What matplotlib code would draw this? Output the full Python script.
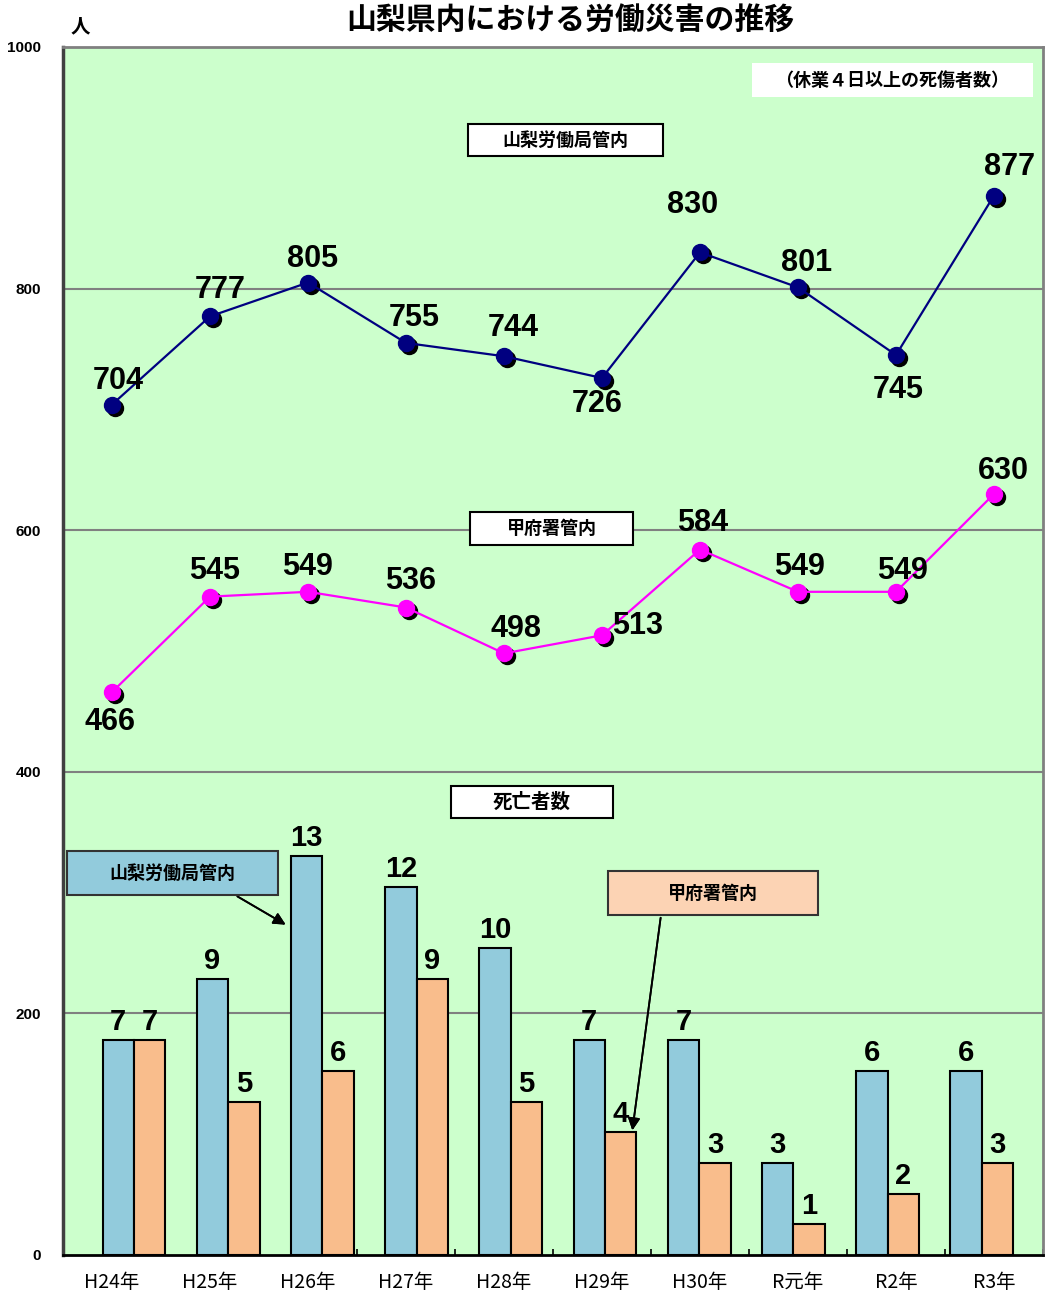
import numpy as np
import matplotlib.pyplot as plt
from matplotlib.patches import Rectangle
from matplotlib.transforms import ScaledTranslation

plt.rcParams['font.family'] = ['Noto Sans CJK JP', 'DejaVu Sans']

# data
years = ["H24年", "H25年", "H26年", "H27年", "H28年", "H29年", "H30年", "R元年", "R2年", "R3年"]
yamanashi_total = [704, 777, 805, 755, 744, 726, 830, 801, 745, 877]
kofu_total = [466, 545, 549, 536, 498, 513, 584, 549, 549, 630]
yamanashi_deaths = [7, 9, 13, 12, 10, 7, 7, 3, 6, 6]
kofu_deaths = [7, 5, 6, 9, 5, 4, 3, 1, 2, 3]

# label offsets in pixels (layout only)
blue_off = [(6, 24), (10, 26), (5, 24), (8, 25), (9, 28), (-5, -26), (-7, 47), (9, 24), (2, -35), (16, 29)]
pink_off = [(-2, -30), (5, 26), (0, 25), (5, 27), (12, 24), (36, 9), (3, 27), (2, 25), (7, 21), (9, 23)]

GREEN = "#ccffcc"
NAVY = "#000080"
MAGENTA = "#ff00ff"
BAR_BLUE = "#92cbdc"
BAR_ORANGE = "#f9bd8c"
NUM_FONT = ['Liberation Sans', 'DejaVu Sans']
W, H = 1046, 1299

fig = plt.figure(figsize=(W / 100, H / 100), dpi=100)
pos = [63 / W, 1 - 1255 / H, 980 / W, 1208 / H]
ax = fig.add_axes(pos)
ax.set_facecolor(GREEN)
x = np.arange(len(years))
ax.set_xlim(-0.5, 9.5)
ax.set_ylim(0, 1000)

for y in [200, 400, 600, 800]:
    ax.axhline(y, color="#808080", lw=1.5, zorder=1)

# bars on an overlay axes with its own scale
axb = fig.add_axes(pos)
axb.patch.set_alpha(0)
axb.set_xlim(-0.754, 9.65)
axb.set_ylim(0, 39.35)
axb.axis("off")
bw = 0.334
axb.bar(x - bw / 2, yamanashi_deaths, bw, color=BAR_BLUE, edgecolor="black", lw=1.5, zorder=2)
axb.bar(x + bw / 2, kofu_deaths, bw, color=BAR_ORANGE, edgecolor="black", lw=1.5, zorder=2)
for i in range(len(years)):
    for xx, v in [(x[i] - bw / 2, yamanashi_deaths[i]), (x[i] + bw / 2, kofu_deaths[i])]:
        axb.annotate(str(v), (xx, v), xytext=(0, 18), textcoords="offset pixels",
                     ha="center", va="center", fontsize=21, fontweight="bold", family=NUM_FONT)

# lines on a top-level overlay axes sharing the primary scale
axl = fig.add_axes(pos, sharex=ax, sharey=ax)
axl.patch.set_alpha(0)
axl.axis("off")
shadow = axl.transData + ScaledTranslation(3 / 100, -3 / 100, fig.dpi_scale_trans)
for vals, col, offs in [(yamanashi_total, NAVY, blue_off), (kofu_total, MAGENTA, pink_off)]:
    axl.plot(x, vals, "o", color="black", ms=11.5, transform=shadow, zorder=3)
    axl.plot(x, vals, "-o", color=col, lw=1.6, ms=11.5, zorder=4)
    for i, v in enumerate(vals):
        axl.annotate(str(v), (x[i], v), xytext=offs[i], textcoords="offset pixels",
                     ha="center", va="center", fontsize=22, fontweight="bold",
                     family=NUM_FONT, zorder=5)

# axes styling
ax.set_xticks(x)
ax.set_xticklabels(years, fontsize=14)
ax.set_xticks(np.arange(-0.5, 10, 1), minor=True)
ax.tick_params(axis="x", which="major", length=0, pad=12)
ax.tick_params(axis="x", which="minor", direction="in", length=4, width=1.2)
ax.set_yticks([0, 200, 400, 600, 800, 1000])
ax.set_yticklabels(["0", "200", "400", "600", "800", "1000"], fontsize=11, fontweight="bold",
                   family=NUM_FONT)
ax.tick_params(axis="y", length=0, pad=16)
ax.spines["left"].set_color("#404040")
ax.spines["left"].set_linewidth(2.5)
ax.spines["bottom"].set_linewidth(2)
for s in ["top", "right"]:
    ax.spines[s].set_color("#808080")
    ax.spines[s].set_linewidth(2)

fig.text(80 / W, 1 - 27 / H, "人", fontsize=14, fontweight="bold", ha="center", va="center")
fig.text(570 / W, 1 - 20 / H, "山梨県内における労働災害の推移", fontsize=21.5,
         fontweight="bold", ha="center", va="center")


def box(x0, y0, x1, y1, text, face, edge, size=13):
    fig.add_artist(Rectangle((x0 / W, 1 - y1 / H), (x1 - x0) / W, (y1 - y0) / H,
                             transform=fig.transFigure, facecolor=face, edgecolor=edge,
                             lw=1.5, zorder=6))
    fig.text((x0 + x1) / 2 / W, 1 - (y0 + y1) / 2 / H, text, fontsize=size, fontweight="bold",
             ha="center", va="center", zorder=7)


box(752, 63, 1033, 97, "（休業４日以上の死傷者数）", "white", "none", size=13)
box(468, 124, 663, 156, "山梨労働局管内", "white", "black", size=13)
box(470, 512, 633, 545, "甲府署管内", "white", "black", size=13)
box(451, 786, 613, 818, "死亡者数", "white", "black", size=14)
box(67, 851, 278, 895, "山梨労働局管内", BAR_BLUE, "#333333", size=13)
box(608, 871, 818, 915, "甲府署管内", "#fcd3b4", "#333333", size=13)

# arrows from the legend boxes
for (x0, y0), (x1, y1) in [((235, 895), (288, 926)), ((661, 915), (632, 1133))]:
    fig.add_artist(plt.annotate("", xy=(x1 / W, 1 - y1 / H), xytext=(x0 / W, 1 - y0 / H),
                                xycoords="figure fraction", textcoords="figure fraction",
                                arrowprops=dict(arrowstyle="-|>", color="black", lw=1.3,
                                                mutation_scale=18)))

fig.savefig("out.png", dpi=100)
